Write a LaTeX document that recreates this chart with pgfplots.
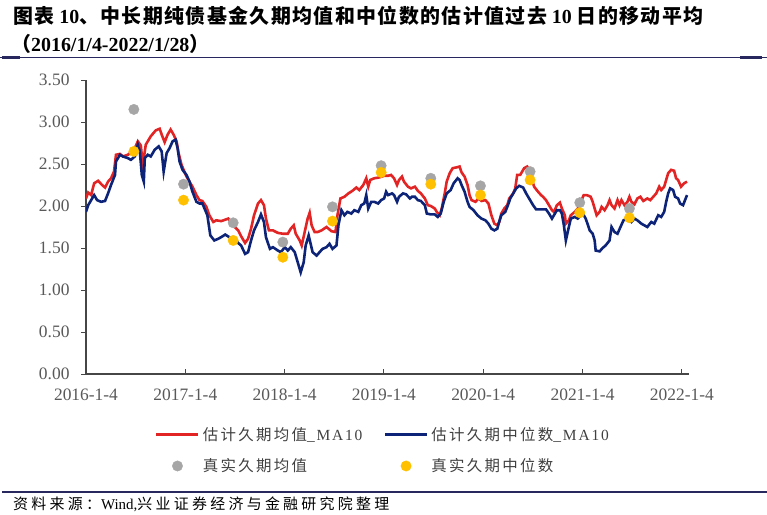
\documentclass[border=0pt]{standalone}
\usepackage{fontspec}
\setmainfont{Liberation Serif}
\newfontfamily\cjk{Noto Sans CJK SC}
\newfontfamily\cjksp{Noto Sans CJK SC}[LetterSpace=15]
\newfontfamily\cjksrc{Noto Sans CJK SC}[LetterSpace=22]
\newfontfamily\cjktitle{Noto Sans CJK SC}[LetterSpace=7]
\newfontfamily\serifsp{Liberation Serif}[LetterSpace=12]
\usepackage{pgfplots}
\pgfplotsset{compat=1.18}

\definecolor{myred}{RGB}{226,36,36}
\definecolor{myblue}{RGB}{12,35,120}
\definecolor{mygray}{RGB}{166,166,166}
\definecolor{myyellow}{RGB}{255,192,0}
\definecolor{ticktext}{RGB}{89,89,89}
\definecolor{axisgray}{RGB}{70,70,70}
\definecolor{rulenavy}{RGB}{40,40,95}
\definecolor{legtext}{RGB}{64,64,64}

\pgfplotsset{
  lineleg/.style={legend image code/.code={\draw[##1] (0bp,0bp) -- (42bp,0bp);}},
  dotleg/.style={legend image code/.code={\path[draw=none, fill=none] (0bp,0bp) -- (42bp,0bp);
    \draw[##1, draw=none] plot coordinates {(21bp,0bp)};}},
}

\begin{document}
\begin{tikzpicture}
\path[use as bounding box] (0,0) rectangle (767bp,-515bp);

% titel
\node[anchor=west, inner sep=0pt] at (13bp,-16bp)
  {\fontsize{20}{22}\selectfont\bfseries{\cjktitle 图表}\ 10{\cjktitle 、中长期纯债基金久期均值和中位数的估计值过去}\ 10\ {\cjktitle 日的移动平均}};
\node[anchor=west, inner sep=0pt] at (11bp,-44bp)
  {\fontsize{20}{22}\selectfont\bfseries{\cjk （}2016/1/4-2022/1/28{\cjk ）}};
\draw[rulenavy, line width=1bp] (0,-57.5bp) -- (767bp,-57.5bp);
\draw[rulenavy, line width=2.5bp] (2bp,-57.5bp) -- (20bp,-57.5bp);
\draw[rulenavy, line width=2.5bp] (740bp,-57.5bp) -- (762bp,-57.5bp);

\begin{axis}[
  at={(86bp,-374bp)}, anchor=south west,
  scale only axis, width=603bp, height=294bp,
  xmin=2016.008, xmax=2022.08,
  ymin=0, ymax=3.5,
  axis x line=bottom, axis y line=left,
  axis line style={-, axisgray, line width=1.1bp},
  xtick={2016.008,2017.008,2018.008,2019.008,2020.008,2021.008,2022.008},
  xticklabels={2016-1-4,2017-1-4,2018-1-4,2019-1-4,2020-1-4,2021-1-4,2022-1-4},
  ytick={0,0.5,1,1.5,2,2.5,3,3.5},
  tick align=inside,
  major tick length=5bp,
  tick style={axisgray, line width=1bp},
  y tick style={xshift=-5bp},
  /pgf/number format/assume math mode=true,
  y tick label style={/pgf/number format/fixed, /pgf/number format/fixed zerofill,
    /pgf/number format/precision=2, xshift=-13bp},
  ticklabel style={font=\fontsize{17.5}{18}\selectfont, text=ticktext},
  xticklabel style={yshift=-11bp},
  legend columns=2,
  legend style={at={(0.1144,-0.18)}, anchor=north west, draw=none, fill=none,
    inner sep=0pt, row sep=17bp, column sep=0pt,
    nodes={inner xsep=3bp, inner ysep=0pt, text=legtext, anchor=west},
    font=\fontsize{15.5}{17}\selectfont},
  legend cell align=left,
]

\addplot[myred, line width=2.6bp, lineleg]
  coordinates {
  (2016.008,2.09) (2016.03,2.16) (2016.06,2.13) (2016.09,2.27) (2016.13,2.30) (2016.17,2.25)
  (2016.20,2.22) (2016.23,2.29) (2016.26,2.33) (2016.29,2.41) (2016.31,2.61) (2016.35,2.62)
  (2016.38,2.59) (2016.43,2.61) (2016.46,2.64) (2016.50,2.69) (2016.53,2.77) (2016.56,2.72)
  (2016.58,2.49) (2016.61,2.73) (2016.66,2.83) (2016.71,2.90) (2016.75,2.92) (2016.77,2.85)
  (2016.80,2.76) (2016.83,2.85) (2016.86,2.91) (2016.89,2.85) (2016.92,2.77) (2016.94,2.63)
  (2016.97,2.49) (2017.02,2.35) (2017.05,2.29) (2017.08,2.23) (2017.12,2.13) (2017.15,2.07)
  (2017.18,2.06) (2017.22,1.99) (2017.25,1.89) (2017.29,1.81) (2017.32,1.83) (2017.37,1.82)
  (2017.44,1.85) (2017.49,1.77) (2017.54,1.71) (2017.57,1.64) (2017.61,1.56) (2017.64,1.61)
  (2017.67,1.73) (2017.70,1.89) (2017.74,2.03) (2017.77,2.07) (2017.80,2.01) (2017.82,1.85)
  (2017.85,1.71) (2017.89,1.71) (2017.94,1.68) (2017.99,1.67) (2018.04,1.67) (2018.07,1.73)
  (2018.10,1.77) (2018.12,1.67) (2018.16,1.59) (2018.18,1.53) (2018.21,1.69) (2018.24,1.85)
  (2018.26,1.92) (2018.28,1.77) (2018.31,1.69) (2018.34,1.69) (2018.38,1.71) (2018.43,1.75)
  (2018.48,1.70) (2018.52,1.69) (2018.54,1.89) (2018.57,2.09) (2018.61,2.11) (2018.65,2.15)
  (2018.69,2.18) (2018.73,2.22) (2018.76,2.19) (2018.80,2.25) (2018.83,2.33) (2018.85,2.23)
  (2018.87,2.31) (2018.91,2.33) (2018.96,2.34) (2019.01,2.36) (2019.05,2.36) (2019.08,2.37)
  (2019.11,2.33) (2019.14,2.25) (2019.16,2.31) (2019.19,2.35) (2019.21,2.29) (2019.25,2.23)
  (2019.28,2.21) (2019.32,2.23) (2019.35,2.18) (2019.38,2.15) (2019.42,2.09) (2019.45,2.01)
  (2019.48,2.00) (2019.52,1.97) (2019.54,1.93) (2019.57,1.89) (2019.59,1.97) (2019.62,2.15)
  (2019.64,2.29) (2019.67,2.39) (2019.70,2.45) (2019.74,2.46) (2019.77,2.47) (2019.79,2.40)
  (2019.82,2.35) (2019.85,2.25) (2019.87,2.13) (2019.89,2.07) (2019.93,2.05) (2019.96,2.09)
  (2019.99,2.06) (2020.03,2.07) (2020.06,2.03) (2020.09,1.89) (2020.12,1.79) (2020.15,1.77)
  (2020.17,1.81) (2020.19,1.91) (2020.22,1.97) (2020.25,2.01) (2020.27,2.09) (2020.31,2.15)
  (2020.33,2.21) (2020.35,2.37) (2020.38,2.37) (2020.42,2.45) (2020.45,2.47) (2020.47,2.43)
  (2020.50,2.31) (2020.52,2.23) (2020.56,2.17) (2020.59,2.13) (2020.61,2.11) (2020.64,2.07)
  (2020.67,2.01) (2020.70,1.95) (2020.72,1.93) (2020.75,2.01) (2020.78,2.04) (2020.80,1.97)
  (2020.83,1.89) (2020.84,1.79) (2020.87,1.83) (2020.89,1.89) (2020.93,1.93) (2020.96,1.97)
  (2020.99,2.05) (2021.02,2.13) (2021.05,2.13) (2021.09,2.11) (2021.11,2.05) (2021.13,1.97)
  (2021.15,1.89) (2021.18,1.93) (2021.20,1.99) (2021.23,1.95) (2021.26,2.01) (2021.28,2.07)
  (2021.30,2.01) (2021.33,1.97) (2021.36,2.07) (2021.38,2.01) (2021.40,2.07) (2021.43,2.01)
  (2021.46,2.05) (2021.48,2.11) (2021.50,2.05) (2021.53,2.02) (2021.56,2.09) (2021.59,2.11)
  (2021.62,2.06) (2021.66,2.09) (2021.69,2.07) (2021.72,2.11) (2021.75,2.15) (2021.78,2.23)
  (2021.80,2.19) (2021.83,2.23) (2021.85,2.31) (2021.87,2.39) (2021.90,2.43) (2021.93,2.42)
  (2021.95,2.33) (2021.97,2.31) (2022.00,2.23) (2022.03,2.27) (2022.06,2.29)
  };
\addlegendentry{\makebox[178bp][l]{\cjksp 估计久期均值\serifsp\_MA10}}

\addplot[myblue, line width=2.6bp, lineleg]
  coordinates {
  (2016.008,1.93) (2016.03,2.01) (2016.06,2.07) (2016.09,2.13) (2016.12,2.07) (2016.16,2.05)
  (2016.20,2.06) (2016.23,2.15) (2016.26,2.25) (2016.30,2.37) (2016.31,2.53) (2016.35,2.61)
  (2016.38,2.59) (2016.43,2.57) (2016.46,2.55) (2016.50,2.59) (2016.53,2.73) (2016.55,2.65)
  (2016.57,2.37) (2016.59,2.29) (2016.60,2.57) (2016.63,2.61) (2016.66,2.59) (2016.70,2.67)
  (2016.74,2.71) (2016.77,2.65) (2016.79,2.41) (2016.82,2.63) (2016.85,2.69) (2016.88,2.77)
  (2016.91,2.79) (2016.93,2.69) (2016.95,2.53) (2016.98,2.43) (2017.02,2.37) (2017.05,2.29)
  (2017.08,2.17) (2017.12,2.05) (2017.15,2.03) (2017.18,2.03) (2017.23,1.89) (2017.26,1.65)
  (2017.30,1.59) (2017.34,1.61) (2017.37,1.63) (2017.41,1.66) (2017.45,1.63) (2017.50,1.61)
  (2017.54,1.56) (2017.57,1.53) (2017.61,1.43) (2017.64,1.45) (2017.67,1.59) (2017.70,1.71)
  (2017.74,1.81) (2017.77,1.90) (2017.80,1.81) (2017.82,1.63) (2017.86,1.49) (2017.89,1.51)
  (2017.94,1.47) (2017.97,1.45) (2018.01,1.51) (2018.04,1.47) (2018.07,1.51) (2018.11,1.45)
  (2018.14,1.33) (2018.17,1.21) (2018.20,1.33) (2018.22,1.53) (2018.25,1.65) (2018.27,1.55)
  (2018.29,1.45) (2018.33,1.41) (2018.36,1.45) (2018.39,1.49) (2018.43,1.51) (2018.46,1.55)
  (2018.49,1.49) (2018.53,1.53) (2018.55,1.77) (2018.58,1.95) (2018.61,1.89) (2018.64,1.93)
  (2018.68,1.91) (2018.71,1.95) (2018.75,1.93) (2018.78,2.01) (2018.81,2.03) (2018.83,2.13)
  (2018.85,1.97) (2018.88,2.05) (2018.91,2.05) (2018.95,2.03) (2018.98,2.07) (2019.01,2.09)
  (2019.03,2.17) (2019.05,2.13) (2019.09,2.15) (2019.11,2.13) (2019.14,2.05) (2019.16,2.11)
  (2019.20,2.15) (2019.23,2.14) (2019.27,2.09) (2019.29,2.11) (2019.32,2.11) (2019.35,2.07)
  (2019.38,2.06) (2019.42,2.01) (2019.44,1.91) (2019.48,1.90) (2019.52,1.90) (2019.55,1.87)
  (2019.58,1.91) (2019.61,2.05) (2019.64,2.15) (2019.68,2.19) (2019.71,2.27) (2019.75,2.33)
  (2019.77,2.31) (2019.79,2.25) (2019.82,2.17) (2019.85,2.05) (2019.87,1.99) (2019.91,1.95)
  (2019.95,1.89) (2019.99,1.85) (2020.03,1.83) (2020.06,1.79) (2020.09,1.73) (2020.12,1.71)
  (2020.15,1.73) (2020.17,1.82) (2020.19,1.89) (2020.23,1.93) (2020.26,2.02) (2020.28,2.09)
  (2020.31,2.15) (2020.34,2.21) (2020.37,2.24) (2020.41,2.22) (2020.44,2.15) (2020.47,2.09)
  (2020.51,2.01) (2020.54,1.96) (2020.59,1.96) (2020.61,1.96) (2020.64,1.96) (2020.67,1.91)
  (2020.70,1.85) (2020.72,1.89) (2020.75,1.95) (2020.78,1.95) (2020.80,1.91) (2020.82,1.77)
  (2020.84,1.59) (2020.87,1.75) (2020.89,1.85) (2020.93,1.87) (2020.96,1.85) (2021.01,1.91)
  (2021.04,1.85) (2021.08,1.71) (2021.11,1.67) (2021.13,1.59) (2021.14,1.47) (2021.18,1.46)
  (2021.21,1.50) (2021.24,1.53) (2021.28,1.59) (2021.30,1.75) (2021.33,1.69) (2021.36,1.67)
  (2021.39,1.75) (2021.42,1.83) (2021.46,1.85) (2021.50,1.81) (2021.53,1.85) (2021.56,1.83)
  (2021.60,1.79) (2021.63,1.77) (2021.66,1.75) (2021.70,1.81) (2021.73,1.79) (2021.77,1.89)
  (2021.80,1.87) (2021.83,1.93) (2021.85,2.05) (2021.87,2.15) (2021.89,2.21) (2021.92,2.19)
  (2021.94,2.11) (2021.97,2.09) (2021.99,2.03) (2022.02,2.01) (2022.04,2.07) (2022.06,2.13)
  };
\addlegendentry{\cjksp 估计久期中位数\serifsp\_MA10}

\addplot[only marks, mark=*, mark size=5.2bp, color=mygray, dotleg]
  coordinates {
  (2016.49,3.15) (2016.99,2.26) (2017.49,1.80) (2017.99,1.57) (2018.49,1.99) (2018.98,2.48)
  (2019.48,2.33) (2019.98,2.24) (2020.48,2.41) (2020.98,2.04) (2021.48,1.97)
  };
\addlegendentry{\makebox[178bp][l]{\cjksp 真实久期均值}}

\addplot[only marks, mark=*, mark size=5.2bp, color=myyellow, dotleg]
  coordinates {
  (2016.49,2.65) (2016.99,2.07) (2017.49,1.59) (2017.99,1.39) (2018.49,1.82) (2018.98,2.40)
  (2019.48,2.26) (2019.98,2.13) (2020.48,2.31) (2020.98,1.92) (2021.48,1.86)
  };
\addlegendentry{\cjksp 真实久期中位数}

\end{axis}

% quelle
\draw[rulenavy, line width=2.2bp] (2bp,-492bp) -- (767bp,-492bp);
\node[anchor=west, inner sep=0pt] at (13bp,-504bp)
  {\fontsize{15}{16}\selectfont{\cjksrc 资料来源：}Wind,{\cjksrc 兴业证券经济与金融研究院整理}};
\end{tikzpicture}
\end{document}
